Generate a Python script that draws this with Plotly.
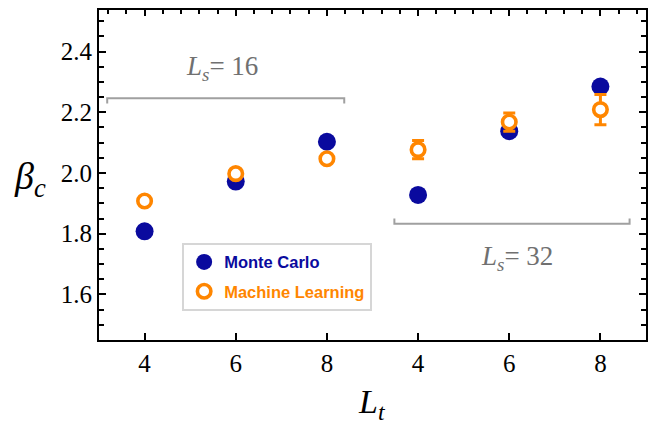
import plotly.graph_objects as go

# Data
positions = [0, 1, 2, 3, 4, 5]
tick_labels = ["4", "6", "8", "4", "6", "8"]
mc_values = [1.808, 1.972, 2.103, 1.928, 2.138, 2.285]
mc_errors = [0.005, 0.005, 0.005, 0.005, 0.008, 0.01]
ml_values = [1.908, 1.998, 2.047, 2.077, 2.168, 2.209]
ml_errors = [0.005, 0.005, 0.005, 0.03, 0.03, 0.05]

# Bracket annotations (data coords)
bracket16_x = [-0.41, 2.19]
bracket16_y = 2.246
bracket16_tip = 2.229
bracket32_x = [2.74, 5.32]
bracket32_y = 1.833
bracket32_tip = 1.85
label16_pos = (0.846, 2.345)
label32_pos = (4.09, 1.72)

y_range = [1.45, 2.537]
x_range = [-0.5, 5.5]

blue = "#0a0a9e"
orange = "#ff8600"
gray = "#a0a0a0"

fig = go.Figure()
fig.add_trace(go.Scatter(
    x=positions, y=mc_values, mode="markers", legendgroup="mc",
    name="<b><span style='color:%s'>Monte Carlo</span></b>" % blue,
    marker=dict(color=blue, size=18, symbol="circle"),
    error_y=dict(type="data", array=mc_errors, color=blue, thickness=2, width=5),
))
fig.add_trace(go.Scatter(
    x=positions, y=ml_values, mode="markers", legendgroup="ml",
    name="<b><span style='color:%s'>Machine Learning</span></b>" % orange,
    marker=dict(color="white", size=13.5, symbol="circle",
                line=dict(color=orange, width=3.6)),
    error_y=dict(type="data", array=ml_errors, color=orange, thickness=3, width=6),
))
# invisible trace to activate mirrored axes (top / right ticks)
fig.add_trace(go.Scatter(
    x=positions, y=mc_values, mode="markers", xaxis="x2", yaxis="y2",
    marker=dict(opacity=0), showlegend=False, hoverinfo="skip",
))

# brackets
for xs, yb, yt in [(bracket16_x, bracket16_y, bracket16_tip), (bracket32_x, bracket32_y, bracket32_tip)]:
    fig.add_shape(type="path", xref="x", yref="y",
                  path=f"M {xs[0]},{yt} L {xs[0]},{yb} L {xs[1]},{yb} L {xs[1]},{yt}",
                  line=dict(color=gray, width=2))

for (lx, ly), txt in [(label16_pos, "16"), (label32_pos, "32")]:
    fig.add_annotation(x=lx, y=ly, xref="x", yref="y", showarrow=False,
                       text="<i>L</i><sub><i>s</i></sub>= " + txt,
                       font=dict(family="Liberation Serif", size=27, color="#707070"))

fig.add_annotation(x=-0.126, y=0.488, xref="paper", yref="paper", showarrow=False,
                   xanchor="center", yanchor="middle",
                   text="<i>β</i><sub><i>c</i></sub>",
                   font=dict(family="Liberation Serif", size=38, color="black"))
fig.add_annotation(x=0.499, y=-0.193, xref="paper", yref="paper", showarrow=False,
                   xanchor="center", yanchor="middle",
                   text="<i>L</i><sub><i>t</i></sub>",
                   font=dict(family="Liberation Serif", size=34, color="black"))

tickfont = dict(family="Liberation Serif, Times New Roman, serif", size=25, color="black")

fig.update_layout(
    width=664, height=432,
    margin=dict(l=91, r=26, t=0, b=100),
    plot_bgcolor="white", paper_bgcolor="white",
    showlegend=True,
    xaxis=dict(range=x_range, tickmode="array", tickvals=positions, ticktext=tick_labels,
               ticks="inside", ticklen=7, tickwidth=1.5, tickcolor="black",
               showline=True, linecolor="black", linewidth=2, mirror=True,
               showgrid=False, zeroline=False, tickfont=tickfont),
    xaxis2=dict(range=x_range, overlaying="x", side="top", anchor="y",
                tickmode="linear", tick0=0, dtick=1, ticks="inside", ticklen=6,
                tickwidth=1.5, tickcolor="black", showticklabels=False,
                minor=dict(dtick=0.2, tick0=0, ticks="inside", ticklen=4,
                           tickwidth=1.5, tickcolor="black"),
                showgrid=False, zeroline=False, showline=False),
    yaxis=dict(range=y_range, tickmode="array", tickvals=[1.6, 1.8, 2.0, 2.2, 2.4],
               ticktext=["1.6", "1.8", "2.0", "2.2", "2.4"],
               ticks="inside", ticklen=7, tickwidth=1.5, tickcolor="black",
               minor=dict(dtick=0.05, tick0=1.45, ticks="inside", ticklen=5,
                          tickcolor="black", tickwidth=1.5),
               showline=True, linecolor="black", linewidth=2, mirror=True,
               showgrid=False, zeroline=False, tickfont=tickfont),
    yaxis2=dict(range=y_range, overlaying="y", side="right", anchor="x",
                tickmode="linear", tick0=1.6, dtick=0.2, ticks="inside", ticklen=7,
                tickwidth=1.5, tickcolor="black", showticklabels=False,
                minor=dict(dtick=0.05, tick0=1.45, ticks="inside", ticklen=5,
                           tickcolor="black", tickwidth=1.5),
                showgrid=False, zeroline=False, showline=False),
    legend=dict(x=0.152, y=0.295, xanchor="left", yanchor="top",
                bgcolor="white", bordercolor="#d6d6d6", borderwidth=2,
                font=dict(family="Liberation Sans", size=16.5),
                itemsizing="trace", traceorder="grouped", tracegroupgap=5),
)

fig.write_html("out.html")
